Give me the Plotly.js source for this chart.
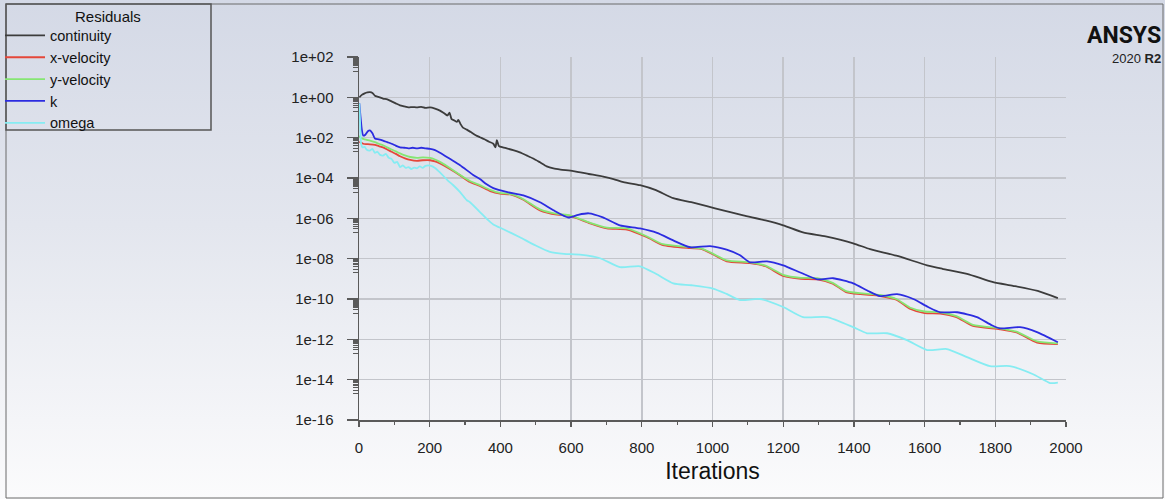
<!DOCTYPE html>
<html><head><meta charset="utf-8">
<script src="https://cdn.plot.ly/plotly-3.0.1.min.js"></script>
<style>
html,body{margin:0;padding:0;}
body{width:1165px;height:499px;overflow:hidden;background:linear-gradient(to bottom,#d4d9e6 0%,#e3e6ee 45%,#fbfbfc 100%);}
#chart{width:1165px;height:499px;}
</style></head><body><div id="chart"></div>
<script>
// ---- data ----
const seriesNames = ['continuity', 'x-velocity', 'y-velocity', 'k', 'omega'];

const contIter = [1,8,16,24,31,38,45,55,68,80,92,104,116,128,140,152,164,176,188,201,215,229,240,250,256,262,270,277,281,287,294,305,316,330,342,355,368,380,386,390,396,407,418,436,455,474,493,512,531,550,570,606,650,691,720,748,795,840,889,940,984,1030,1087,1150,1200,1256,1320,1398,1446,1520,1607,1650,1720,1794,1850,1920,1977];
const contRes = [1.0,1.32,1.58,1.74,1.8,1.66,1.2,1.05,0.87,0.79,0.63,0.5,0.4,0.355,0.316,0.33,0.316,0.34,0.30,0.316,0.275,0.22,0.166,0.126,0.174,0.083,0.071,0.060,0.076,0.048,0.0316,0.0251,0.019,0.0132,0.0105,0.0083,0.0063,0.005,0.0033,0.0076,0.0038,0.0033,0.00295,0.0024,0.00186,0.00132,9.3e-4,6.0e-4,3.8e-4,3.0e-4,2.63e-4,2.19e-4,1.58e-4,1.17e-4,8.9e-5,6.3e-5,4.4e-5,2.5e-5,1.0e-5,6.3e-6,4.0e-6,2.5e-6,1.41e-6,7.9e-7,4.5e-7,2.0e-7,1.26e-7,5.8e-8,2.95e-8,1.41e-8,4.7e-9,3.16e-9,1.78e-9,6.8e-10,4.5e-10,2.5e-10,1.1e-10];

const velIter = [1,4,12,20,31,45,56,68,80,92,104,116,130,145,164,180,201,215,229,257,286,314,342,371,399,430,465,512,560,597,654,701,758,815,860,936,970,1001,1040,1106,1150,1200,1250,1296,1340,1380,1474,1520,1558,1600,1644,1690,1737,1813,1860,1918,1977];
const xVelRes = [0.0063,0.0059,0.005,0.0048,0.0047,0.0044,0.0038,0.0033,0.0026,0.002,0.00158,0.0012,9.5e-4,7.9e-4,7.1e-4,7.6e-4,7.6e-4,6.6e-4,5.2e-4,2.8e-4,1.35e-4,6.3e-5,4.0e-5,2.24e-5,1.66e-5,1.51e-5,8.3e-6,2.5e-6,1.51e-6,1.32e-6,5.6e-7,3.16e-7,2.75e-7,1.15e-7,4.7e-8,3.3e-8,3.0e-8,1.66e-8,7.4e-9,6.0e-9,4.2e-9,1.38e-9,1.0e-9,9.5e-10,5.8e-10,2.1e-10,1.41e-10,9.3e-11,3.3e-11,2.0e-11,1.9e-11,1.26e-11,4.6e-12,3.16e-12,2.2e-12,6.9e-13,5.8e-13];
const yVelRes = [0.0126,0.01,0.0087,0.0079,0.0072,0.006,0.005,0.0042,0.0033,0.0026,0.0021,0.00166,0.00132,0.0011,0.001,0.00105,0.001,8.3e-4,6.3e-4,3.16e-4,1.41e-4,7.1e-5,4.4e-5,2.6e-5,1.82e-5,1.58e-5,8.9e-6,2.8e-6,1.66e-6,1.41e-6,6.0e-7,3.5e-7,3.16e-7,1.26e-7,5.2e-8,3.7e-8,3.16e-8,1.78e-8,8.3e-9,6.6e-9,4.5e-9,1.58e-9,1.12e-9,1.07e-9,6.3e-10,2.4e-10,1.58e-10,1.0e-10,3.8e-11,2.4e-11,2.2e-11,1.41e-11,5.2e-12,3.5e-12,2.4e-12,7.9e-13,6.3e-13];

const kIter = [1,4,8,12,18,25,31,38,45,56,68,80,92,104,116,128,140,152,164,176,188,201,215,229,257,286,323,342,360,380,420,465,512,550,592,620,650,690,738,795,843,890,936,993,1040,1078,1106,1154,1200,1250,1296,1341,1398,1440,1474,1522,1568,1610,1644,1692,1748,1790,1813,1870,1918,1977];
const kRes = [0.5,0.126,0.025,0.0126,0.014,0.021,0.023,0.0166,0.0091,0.0083,0.0072,0.006,0.005,0.004,0.0033,0.00316,0.00295,0.00316,0.00295,0.00316,0.00295,0.0028,0.0024,0.00178,8.9e-4,4.3e-4,1.41e-4,8.9e-5,5.0e-5,3.16e-5,2.0e-5,1.38e-5,6.3e-6,2.5e-6,1.1e-6,1.5e-6,1.78e-6,1.12e-6,4.5e-7,3.16e-7,1.9e-7,7.9e-8,3.7e-8,4.2e-8,2.8e-8,1.48e-8,6.6e-9,7.4e-9,4.7e-9,2.0e-9,9.5e-10,1.07e-9,6.0e-10,2.5e-10,1.38e-10,1.74e-10,1.0e-10,4.0e-11,2.2e-11,2.2e-11,1.26e-11,5.0e-12,3.5e-12,4.0e-12,2.3e-12,7.2e-13];

const omegaIter = [1,3,6,10,16,22,31,38,45,52,60,68,76,84,92,100,108,116,124,132,140,148,156,164,172,180,188,196,204,215,229,250,266,286,305,314,340,360,380,410,455,500,540,580,625,682,738,795,840,889,940,1001,1040,1078,1134,1200,1256,1324,1398,1437,1494,1550,1607,1663,1720,1785,1841,1907,1955,1977];
const omegaRes = [0.5,0.063,0.005,0.0033,0.0035,0.0025,0.0023,0.0028,0.00178,0.002,0.0014,0.0013,0.00158,0.001,8.9e-4,5.6e-4,6.3e-4,3.5e-4,4.2e-4,3.16e-4,3.5e-4,2.8e-4,3.3e-4,3.0e-4,3.8e-4,3.16e-4,4.0e-4,4.2e-4,4.0e-4,3.16e-4,1.9e-4,7.9e-5,4.5e-5,2.0e-5,7.9e-6,6.3e-6,2.24e-6,1.0e-6,5.0e-7,2.8e-7,1.15e-7,4.5e-8,2.2e-8,1.74e-8,1.58e-8,1.05e-8,3.8e-9,4.2e-9,1.78e-9,6.0e-10,4.8e-10,3.3e-10,1.78e-10,8.9e-11,1.0e-10,4.0e-11,1.26e-11,1.26e-11,4.0e-12,2.0e-12,2.0e-12,9.1e-13,2.95e-13,3.3e-13,1.32e-13,4.7e-14,4.7e-14,1.86e-14,6.8e-15,7.1e-15];

const xTickVals = [0,200,400,600,800,1000,1200,1400,1600,1800,2000];
const yTickVals = [1e2,1e0,1e-2,1e-4,1e-6,1e-8,1e-10,1e-12,1e-14,1e-16];
const yTickText = ['1e+02','1e+00','1e-02','1e-04','1e-06','1e-08','1e-10','1e-12','1e-14','1e-16'];

// ---- styling ----
const FONT = 'Liberation Sans, Arial, sans-serif';
const colors = ['#3c3c3c', '#e5473a', '#86e673', '#2c2ce0', '#86ecf2'];

// minor ticks: the 2..9 ticks of the decade just below each labelled decade
const yMinor = [];
yTickVals.slice(0, -1).forEach(v => { for (let m = 9; m >= 2; m--) yMinor.push(v * m / 10); });

const mk = (name, x, y, c) => ({
  type: 'scatter', mode: 'lines', name: name, x: x, y: y,
  line: {color: c, width: 1.8, shape: 'spline', smoothing: 0.6}
});
const traces = [
  mk(seriesNames[0], contIter, contRes, colors[0]),
  mk(seriesNames[1], velIter, xVelRes, colors[1]),
  mk(seriesNames[2], velIter, yVelRes, colors[2]),
  mk(seriesNames[3], kIter, kRes, colors[3]),
  mk(seriesNames[4], omegaIter, omegaRes, colors[4])
];

// pixel -> paper helpers for decorations outside the plot area
const L = 359, R = 99, T = 57, B = 79, W = 1165, H = 499;
const pw = W - L - R, ph = H - T - B;
const px = p => (p - L) / pw;
const py = p => (H - B - p) / ph;

const layout = {
  width: W, height: H,
  margin: {l: L, r: R, t: T, b: B, pad: 0},
  paper_bgcolor: 'rgba(0,0,0,0)',
  plot_bgcolor: 'rgba(0,0,0,0)',
  font: {family: FONT, color: '#222'},
  xaxis: {
    range: [0, 2000], tickmode: 'array', tickvals: xTickVals,
    showgrid: true, gridcolor: '#c3c5cb', gridwidth: 1.5,
    showline: true, linecolor: '#5a5a5a', linewidth: 1.5,
    ticks: 'outside', ticklen: 5, tickwidth: 1.2, tickcolor: '#5a5a5a',
    minor: {dtick: 100, ticks: 'outside', ticklen: 3, tickcolor: '#5a5a5a', showgrid: false},
    tickfont: {size: 15, color: '#222'}, ticklabelstandoff: 8,
    zeroline: false, automargin: false,
    title: {text: 'Iterations', font: {size: 23, color: '#111', family: FONT}, standoff: 8}
  },
  yaxis: {
    type: 'log', range: [-16, 2], tickmode: 'array', tickvals: yTickVals, ticktext: yTickText,
    showgrid: true, gridcolor: '#c3c5cb', gridwidth: 1.5,
    showline: true, linecolor: '#5a5a5a', linewidth: 1.5,
    ticks: 'outside', ticklen: 11, tickwidth: 1.2, tickcolor: '#5a5a5a',
    minor: {tickmode: 'array', tickvals: yMinor, ticks: 'outside', ticklen: 5, tickcolor: '#5a5a5a', showgrid: false},
    tickfont: {size: 15, color: '#222'}, ticklabelstandoff: 10,
    zeroline: false, automargin: false
  },
  showlegend: true,
  legend: {
    xref: 'container', yref: 'container', x: 0, y: 0.961, xanchor: 'left', yanchor: 'top',
    bgcolor: 'rgba(0,0,0,0)', borderwidth: 0, font: {family: FONT, size: 14.5, color: '#111'},
    itemwidth: 40, tracegroupgap: 0
  },
  shapes: [
    {type: 'rect', xref: 'paper', yref: 'paper', x0: px(6), x1: px(1163), y0: py(498), y1: py(4),
     line: {color: '#6a6a6a', width: 1}, fillcolor: 'rgba(0,0,0,0)', layer: 'below'},
    {type: 'rect', xref: 'paper', yref: 'paper', x0: px(6), x1: px(211), y0: py(130), y1: py(4),
     line: {color: '#555', width: 1.5}, fillcolor: 'rgba(0,0,0,0)'}
  ],
  annotations: [
    {xref: 'paper', yref: 'paper', x: px(108), y: py(16), text: 'Residuals', showarrow: false,
     xanchor: 'center', yanchor: 'middle', font: {family: FONT, size: 15, color: '#111'}},
    {xref: 'paper', yref: 'paper', x: px(1163), y: py(36), text: '<b>ANSYS</b>', showarrow: false,
     xanchor: 'right', yanchor: 'middle', font: {family: 'Roboto, Liberation Sans, sans-serif', size: 23, color: '#111'}},
    {xref: 'paper', yref: 'paper', x: px(1163), y: py(59), text: '2020 <b>R2</b>', showarrow: false,
     xanchor: 'right', yanchor: 'middle', font: {family: FONT, size: 13, color: '#222'}}
  ]
};

Plotly.newPlot('chart', traces, layout, {displayModeBar: false, staticPlot: true});
</script>
</body></html>
